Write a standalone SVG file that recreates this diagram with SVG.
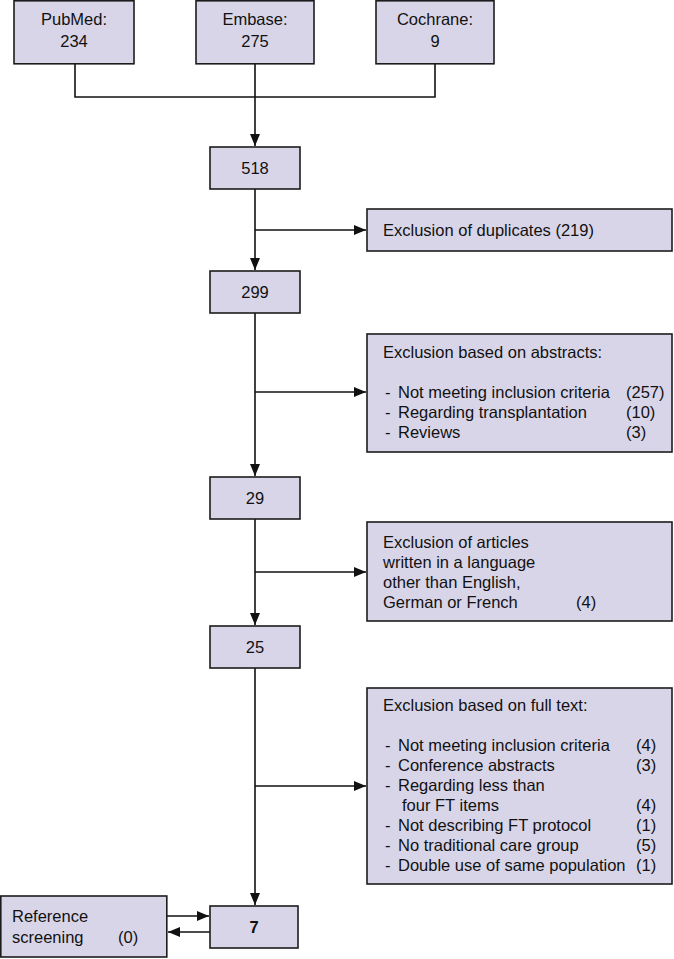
<svg xmlns="http://www.w3.org/2000/svg" width="674" height="959" viewBox="0 0 674 959">
<style>
.box{fill:#d9d5e9;stroke:#1c1c1c;stroke-width:1.6}
text{font-family:"Liberation Sans",Arial,sans-serif;font-size:16.5px;fill:#111}
.c{text-anchor:middle}
.ln{stroke:#111;stroke-width:1.6;fill:none}
</style>
<defs>
<marker id="ah" viewBox="0 0 12 10" refX="12" refY="5" markerWidth="12" markerHeight="10" markerUnits="userSpaceOnUse" orient="auto">
<path d="M0,0 L12,5 L0,10 Z" fill="#111"/>
</marker>
</defs>
<rect width="674" height="959" fill="#fff"/>
<g id="connectors">
<path class="ln" d="M75,64 V97 H435 V64 M255,64 V97"/>
<path class="ln" d="M255,97 V146" marker-end="url(#ah)"/>
<path class="ln" d="M255,189 V270" marker-end="url(#ah)"/>
<path class="ln" d="M255,230 H366" marker-end="url(#ah)"/>
<path class="ln" d="M255,313 V476" marker-end="url(#ah)"/>
<path class="ln" d="M255,392 H366" marker-end="url(#ah)"/>
<path class="ln" d="M255,519 V625" marker-end="url(#ah)"/>
<path class="ln" d="M255,572 H366" marker-end="url(#ah)"/>
<path class="ln" d="M255,668 V905" marker-end="url(#ah)"/>
<path class="ln" d="M255,786 H366" marker-end="url(#ah)"/>
<path class="ln" d="M167,916 H209" marker-end="url(#ah)"/>
<path class="ln" d="M210,932 H168" marker-end="url(#ah)"/>
</g>
<g id="pubmed"><rect class="box" x="14" y="0.8" width="120" height="63"/><text class="c" x="74" y="25">PubMed:</text><text class="c" x="74" y="47">234</text></g>
<g id="embase"><rect class="box" x="196" y="0.8" width="118" height="63"/><text class="c" x="255" y="25">Embase:</text><text class="c" x="255" y="47">275</text></g>
<g id="cochrane"><rect class="box" x="376" y="0.8" width="118" height="63"/><text class="c" x="435" y="25">Cochrane:</text><text class="c" x="435" y="47">9</text></g>
<g id="n518"><rect class="box" x="210" y="147" width="90" height="42"/><text class="c" x="255" y="174">518</text></g>
<g id="dup"><rect class="box" x="367" y="209" width="305" height="42"/><text x="383" y="236">Exclusion of duplicates (219)</text></g>
<g id="n299"><rect class="box" x="210" y="271" width="90" height="42"/><text class="c" x="255" y="298">299</text></g>
<g id="abstracts"><rect class="box" x="367" y="334" width="305" height="118"/>
<text x="383" y="358">Exclusion based on abstracts:</text>
<text x="385" y="398">-</text><text x="398" y="398">Not meeting inclusion criteria</text><text x="626" y="398">(257)</text>
<text x="385" y="418">-</text><text x="398" y="418">Regarding transplantation</text><text x="626" y="418">(10)</text>
<text x="385" y="438">-</text><text x="398" y="438">Reviews</text><text x="626" y="438">(3)</text>
</g>
<g id="n29"><rect class="box" x="210" y="477" width="90" height="42"/><text class="c" x="255" y="504">29</text></g>
<g id="language"><rect class="box" x="367" y="522" width="305" height="99"/>
<text x="383" y="548">Exclusion of articles</text>
<text x="383" y="568">written in a language</text>
<text x="383" y="588">other than English,</text>
<text x="383" y="608">German or French</text><text x="576" y="608">(4)</text>
</g>
<g id="n25"><rect class="box" x="210" y="626" width="90" height="42"/><text class="c" x="255" y="653">25</text></g>
<g id="fulltext"><rect class="box" x="367" y="688" width="305" height="196"/>
<text x="383" y="711">Exclusion based on full text:</text>
<text x="385" y="751">-</text><text x="398" y="751">Not meeting inclusion criteria</text><text x="636" y="751">(4)</text>
<text x="385" y="771">-</text><text x="398" y="771">Conference abstracts</text><text x="636" y="771">(3)</text>
<text x="385" y="791">-</text><text x="398" y="791">Regarding less than</text>
<text x="402" y="811">four FT items</text><text x="636" y="811">(4)</text>
<text x="385" y="831">-</text><text x="398" y="831">Not describing FT protocol</text><text x="636" y="831">(1)</text>
<text x="385" y="851">-</text><text x="398" y="851">No traditional care group</text><text x="636" y="851">(5)</text>
<text x="385" y="871">-</text><text x="398" y="871">Double use of same population</text><text x="636" y="871">(1)</text>
</g>
<g id="reference"><rect class="box" x="0.8" y="896" width="166" height="61"/>
<text x="12" y="922">Reference</text>
<text x="12" y="943">screening</text><text x="118" y="943">(0)</text>
</g>
<g id="n7"><rect class="box" x="210" y="906" width="88" height="42"/><text class="c" x="254" y="933" font-weight="bold">7</text></g>
</svg>
